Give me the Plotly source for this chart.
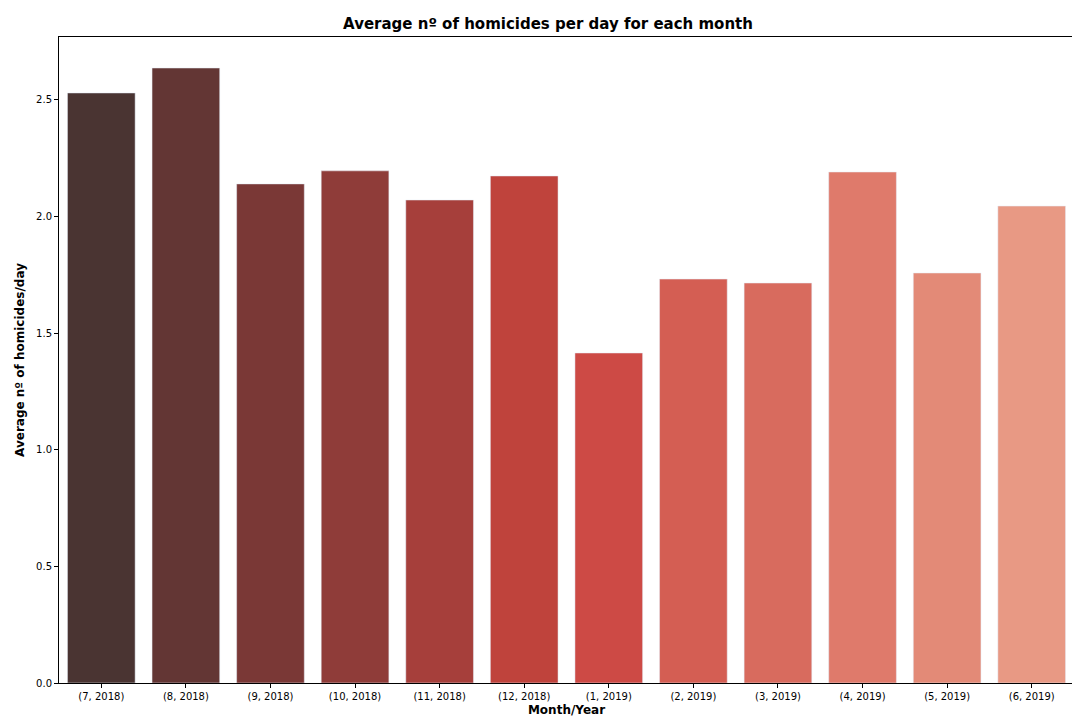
import plotly.graph_objects as go

months = ["(7, 2018)", "(8, 2018)", "(9, 2018)", "(10, 2018)", "(11, 2018)", "(12, 2018)",
          "(1, 2019)", "(2, 2019)", "(3, 2019)", "(4, 2019)", "(5, 2019)", "(6, 2019)"]
avg_homicides = [2.53, 2.637, 2.14, 2.196, 2.071, 2.174, 1.415, 1.732, 1.715, 2.191, 1.758, 2.045]
bar_colors = ["#4a3432", "#633634", "#7a3836", "#8f3c39", "#a63f3b", "#bf433c",
              "#cd4a45", "#d45e53", "#d86b5e", "#df7a6b", "#e38a77", "#e89984"]

fig = go.Figure(go.Bar(x=months, y=avg_homicides, marker_color=bar_colors, width=0.8))

fig.update_layout(
    width=1080, height=720,
    paper_bgcolor="white", plot_bgcolor="white",
    margin=dict(l=47, r=14, t=29, b=45),
    font=dict(family="DejaVu Sans", size=10, color="black"),
    title=dict(text="<b>Average nº of homicides per day for each month</b>",
               x=0.5, xanchor="center", y=0.985, yanchor="top", font=dict(size=15)),
    showlegend=False, bargap=0.2,
)
fig.update_xaxes(title=dict(text="<b>Month/Year</b>", font=dict(size=12), standoff=4),
                 showline=True, linecolor="black", mirror=True, ticks="outside",
                 ticklen=4, tickcolor="black")
fig.update_yaxes(title=dict(text="<b>Average nº of homicides/day</b>", font=dict(size=12), standoff=8),
                 range=[0, 2.77], tickvals=[0, 0.5, 1.0, 1.5, 2.0, 2.5], tickformat=".1f",
                 showline=True, linecolor="black", mirror=True, ticks="outside",
                 ticklen=4, tickcolor="black", showgrid=False, zeroline=False)

fig.write_html("out.html")
